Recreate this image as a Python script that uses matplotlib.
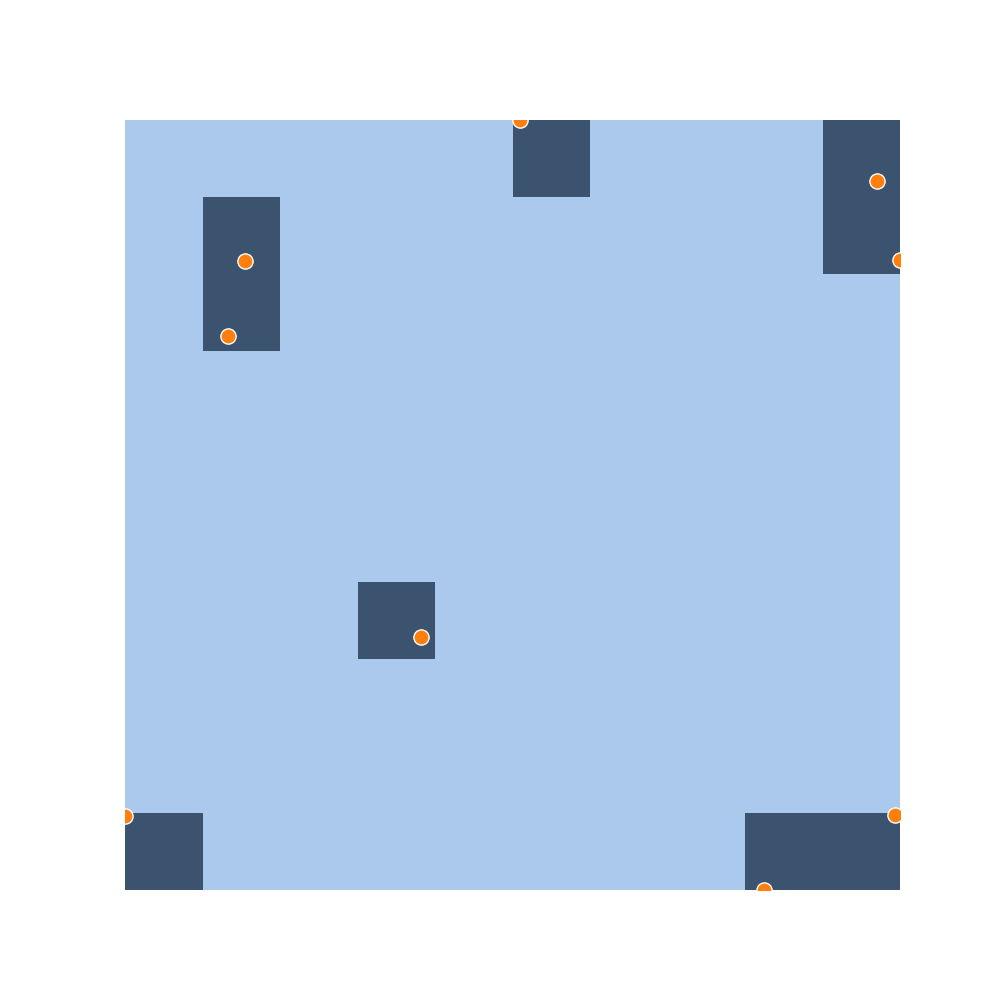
import numpy as np
import matplotlib.pyplot as plt
from matplotlib.colors import ListedColormap

# occupied cells of the 10x10 grid (col, row), row 0 at bottom
occupied_cols = [1, 1, 5, 9, 9, 3, 0, 8, 9]
occupied_rows = [7, 8, 9, 8, 9, 3, 0, 0, 0]

# points
pts_x = [5.10, 9.70, 10.0, 1.55, 1.33, 3.82, 0.0, 9.94, 8.24]
pts_y = [10.0, 9.21, 8.18, 8.17, 7.20, 3.28, 0.96, 0.975, 0.0]

grid = np.zeros((10, 10))
for c, r in zip(occupied_cols, occupied_rows):
    grid[r, c] = 1

fig, ax = plt.subplots(figsize=(10, 10), dpi=100)
cmap = ListedColormap(['#abc9ed', '#3b536e'])
ax.pcolormesh(np.arange(11), np.arange(11), grid, cmap=cmap, vmin=0, vmax=1)
ax.scatter(pts_x, pts_y, s=120, color='#ff7f0e', edgecolors='white',
           linewidths=1, zorder=3)
ax.set_xlim(0, 10)
ax.set_ylim(0, 10)
ax.axis('off')
fig.savefig('out.png')
